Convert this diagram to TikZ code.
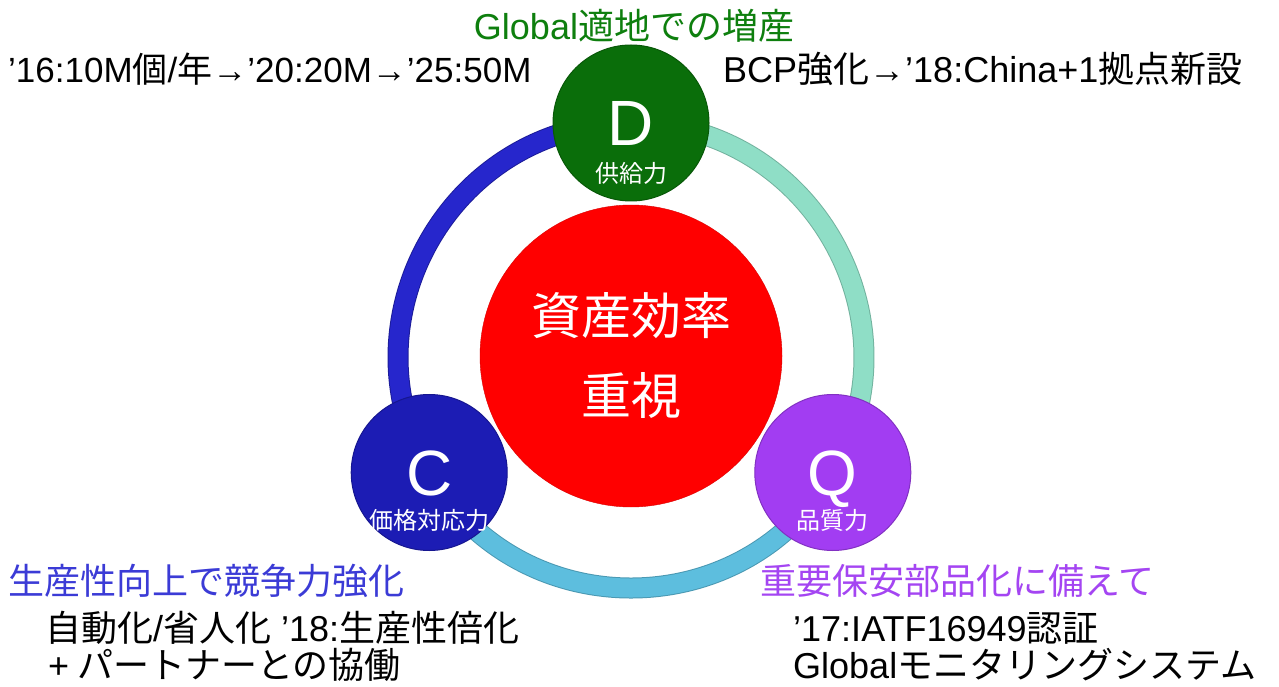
\documentclass[tikz,border=0pt]{standalone}
\usepackage{fontspec}
\setmainfont{Liberation Sans}
\newfontfamily\jp{Noto Sans CJK JP}
\usetikzlibrary{backgrounds}
\definecolor{dgreen}{HTML}{0A6E0A}
\definecolor{cblue}{HTML}{1C1CB4}
\definecolor{qpurple}{HTML}{A23DF2}
\definecolor{ringblue}{HTML}{2626CC}
\definecolor{ringmint}{HTML}{8FDEC6}
\definecolor{ringsky}{HTML}{5DBEDE}
\definecolor{headgreen}{HTML}{0E7F0E}
\definecolor{headblue}{HTML}{3B3BD6}
\definecolor{headpurple}{HTML}{A445F2}
\begin{document}
\begin{tikzpicture}[x=1pt,y=1pt]

    \tikzset{
      ball/.style={
        circle,
        inner sep=0pt,
        minimum size=156pt,
        line width=1pt,
      },
      ring/.style={
        line width=1pt,
        double distance=19pt,
      },
      txt/.style={inner sep=0pt, anchor=base west, font=\fontsize{36}{43}\selectfont},
      letter/.style={inner sep=0pt, anchor=base, text=white, font=\fontsize{64}{64}\selectfont},
      sub/.style={inner sep=0pt, anchor=base, text=white, font=\jp\fontsize{24}{24}\selectfont},
    }
    \useasboundingbox (0,0) rectangle (1279,686);

	\coordinate (O) at (631,330);
	\node[circle, fill=red, draw=red!85!black, inner sep=0pt, minimum size=302pt, align=center, text=white, font=\jp\fontsize{50}{80}\selectfont] (core) at (O) {資産効率\\重視};

	\node[ball, fill=dgreen, draw=dgreen!80!black] (D) at ([shift={(90:233)}]O) {};
	\node[ball, fill=cblue, draw=cblue!80!black] (C) at ([shift={(210:233)}]O) {};
	\node[ball, fill=qpurple, draw=qpurple!80!black] (Q) at ([shift={(330:233)}]O) {};

	\begin{scope}[on background layer]
	\draw[ring, draw=ringblue!75!black, double=ringblue] (D.center) to[bend right=60, looseness=1.13] (C.center);
	\draw[ring, draw=ringsky!80!black, double=ringsky] (C.center) to[bend right=60, looseness=1.13] (Q.center);
	\draw[ring, draw=ringmint!80!black, double=ringmint] (Q.center) to[bend right=60, looseness=1.13] (D.center);
	\end{scope}

	\node[letter] (Dl) at ([yshift=-23pt]D.center) {D};
	\node[sub] (Ds) at ([yshift=-60pt]D.center) {供給力};
	\node[letter] (Cl) at ([yshift=-23pt]C.center) {C};
	\node[sub] (Cs) at ([yshift=-57pt]C.center) {価格対応力};
	\node[letter] (Ql) at ([yshift=-23pt]Q.center) {Q};
	\node[sub] (Qs) at ([yshift=-57pt]Q.center) {品質力};

	\node[txt, anchor=base, text=headgreen] (dHead) at (634,646) {Global{\jp 適地での増産}};
	\node[txt, font=\fontsize{35}{43}\selectfont] (dLeft) at (8,603) {’16:10M{\jp 個}/{\jp 年}→’20:20M→’25:50M};
	\node[txt] (dRight) at (723,603) {BCP{\jp 強化}→’18:China+1{\jp 拠点新設}};

	\node[txt, text=headblue, font=\jp\fontsize{36}{43}\selectfont] (cHead) at (8,92) {生産性向上で競争力強化};
	\node[txt] (cLine1) at (45,45) {{\jp 自動化}/{\jp 省人化} ’18:{\jp 生産性倍化}};
	\node[txt] (cLine2) at (48,8) {+\hspace{8pt}{\jp パートナーとの協働}};

	\node[txt, text=headpurple, font=\jp\fontsize{36}{43}\selectfont] (qHead) at (760,92) {重要保安部品化に備えて};
	\node[txt] (qLine1) at (793,45) {’17:IATF16949{\jp 認証}};
	\node[txt] (qLine2) at (793,8) {Global{\jp モニタリングシステム}};

\end{tikzpicture}
\end{document}
